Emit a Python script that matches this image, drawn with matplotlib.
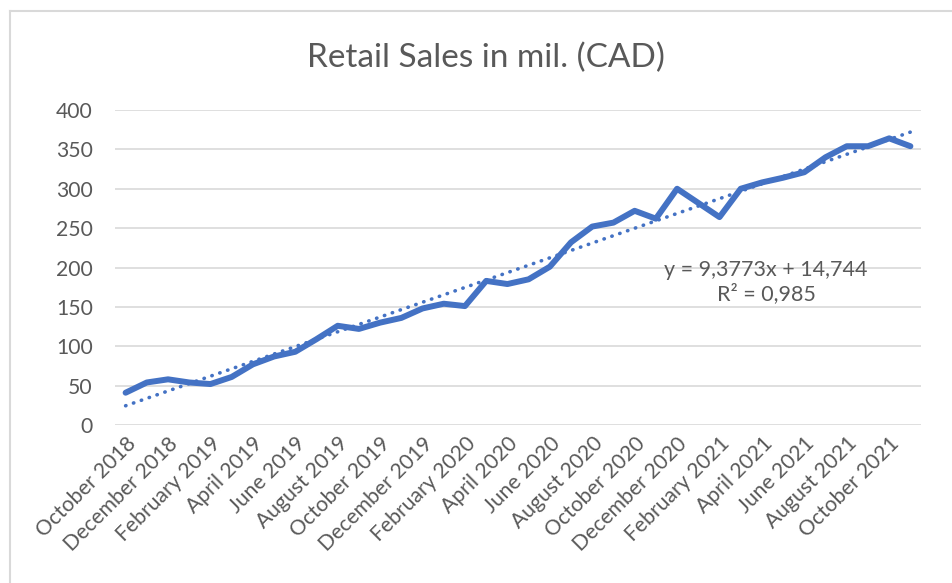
import matplotlib
matplotlib.use("Agg")
import matplotlib.pyplot as plt
import numpy as np
from matplotlib.lines import Line2D

plt.rcParams['font.family'] = ['Lato', 'DejaVu Sans']

months = ["October 2018", "November 2018", "December 2018", "January 2019", "February 2019",
          "March 2019", "April 2019", "May 2019", "June 2019", "July 2019", "August 2019",
          "September 2019", "October 2019", "November 2019", "December 2019", "January 2020",
          "February 2020", "March 2020", "April 2020", "May 2020", "June 2020", "July 2020",
          "August 2020", "September 2020", "October 2020", "November 2020", "December 2020",
          "January 2021", "February 2021", "March 2021", "April 2021", "May 2021", "June 2021",
          "July 2021", "August 2021", "September 2021", "October 2021", "November 2021"]
sales = [41, 54, 58, 54, 52, 61, 77, 87, 93, 109, 126, 122, 130, 136, 148, 154, 151, 183,
         179, 185, 201, 232, 252, 257, 272, 262, 300, 282, 264, 300, 308, 314, 321, 340,
         354, 354, 364, 354]
yticks = [0, 50, 100, 150, 200, 250, 300, 350, 400]
title = "Retail Sales in mil. (CAD)"
eq_text = "y = 9,3773x + 14,744\nR² = 0,985"

blue = "#4472C4"
grey_text = "#595959"
grid_col = "#D9D9D9"

fig = plt.figure(figsize=(9.52, 5.83), dpi=100)
ax = fig.add_axes([115/952, 1-425/583, (921-115)/952, (425-110)/583])

x = np.arange(len(sales))
ax.plot(x, sales, color=blue, lw=4.3, solid_joinstyle='round', solid_capstyle='round', zorder=3)

# linear trendline (Excel numbering x = 1..n)
coef = np.polyfit(x + 1, sales, 1)
trend = np.polyval(coef, x + 1)
ax.plot(x, trend, color=blue, lw=2.6, linestyle=(0, (0.1, 2.2)), dash_capstyle='round', zorder=2)

ax.set_xlim(-0.5, len(sales) - 0.5)
ax.set_ylim(0, 400)
ax.set_yticks(yticks)
ax.yaxis.grid(True, color=grid_col, lw=1.2)
ax.set_axisbelow(True)
for s in ax.spines.values():
    s.set_visible(False)

ax.set_xticks(x[::2])
ax.set_xticklabels(months[::2], rotation=45, ha='right', va='top', rotation_mode='anchor')
ax.tick_params(axis='both', length=0, labelsize=15.2, labelcolor=grey_text)
ax.tick_params(axis='y', pad=16)
ax.tick_params(axis='x', pad=6)

ax.text(30.2, 182, eq_text, ha='center', va='center', fontsize=15.5, color=grey_text,
        linespacing=1.2)

fig.text(486/952, 1-58/583, title, ha='center', va='center', fontsize=24, color=grey_text)

# chart border
fig.add_artist(Line2D([10/952, 10/952], [0, 1-11/583], transform=fig.transFigure, color=grid_col, lw=1.5))
fig.add_artist(Line2D([10/952, 1], [1-11/583, 1-11/583], transform=fig.transFigure, color=grid_col, lw=1.5))

fig.savefig("out.png", dpi=100)
